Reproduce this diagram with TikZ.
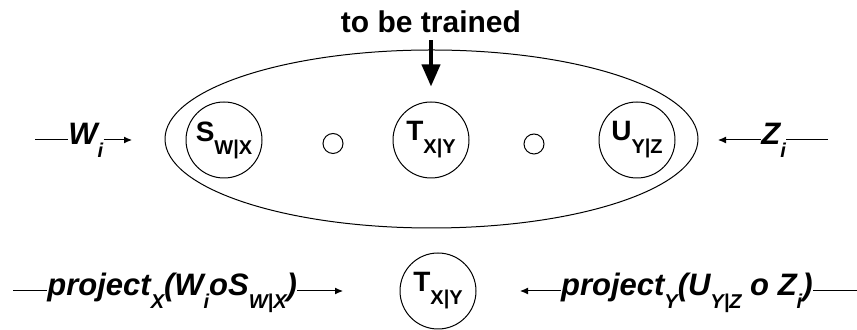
\documentclass[tikz,border=0pt]{standalone}
\usepackage{fontspec}
\setmainfont{Liberation Sans}
\usetikzlibrary{arrows.meta,shapes.geometric}

% lowered index as in the figure
\newcommand{\lowsub}[1]{\raisebox{-6.5pt}{\fontsize{10}{11}\selectfont #1}}

\begin{document}
\begin{tikzpicture}[x=0.5pt, y=-0.5pt,
    model/.style={draw, circle, line width=0.5pt, minimum size=38pt, inner sep=0pt, font=\fontsize{14}{16}\selectfont\bfseries},
    dot/.style={draw, circle, line width=0.5pt, minimum size=10pt, inner sep=0pt},
    group/.style={draw, ellipse, line width=0.5pt, minimum width=266.5pt, minimum height=89pt, inner sep=0pt},
    lbl/.style={inner sep=0pt, font=\fontsize{15.5}{17}\selectfont\bfseries\itshape},
    flow/.style={line width=0.5pt},
    tip/.style={flow, -{Latex[length=4pt, width=3.5pt]}},
    bigarrow/.style={line width=2pt, -{Triangle[length=11pt, width=9pt]}}]
    \useasboundingbox (0,0) rectangle (857,330);

    % models to be chained
    \node[group] (grp) at (431.5,139) {};
    \node[model] (S) at (224,140) {S\lowsub{W|X}};
    \node[model] (T) at (431,140) {T\lowsub{X|Y}};
    \node[model] (U) at (637,140) {U\lowsub{Y|Z}};
    \node[dot] (o1) at (333,143.5) {};
    \node[dot] (o2) at (534,144) {};

    \node[font=\fontsize{15}{17}\selectfont\bfseries] (trained) at (431,22) {to be trained};
    \draw[bigarrow] (trained.south) -- (T.north) [shorten >=7.5pt];

    % inputs
    \node[lbl, anchor=base west] (wi) at (68,145) {W\lowsub{i}};
    \coordinate (win) at (35,140);
    \coordinate (wout) at (132,140);
    \draw[flow] (win) -- (win -| wi.west);
    \draw[tip] (wi.east |- win) -- (wout);

    \node[lbl, anchor=base west] (zi) at (761,145) {Z\lowsub{i}};
    \coordinate (zin) at (828,140);
    \coordinate (zout) at (718,140);
    \draw[flow] (zin) -- (zin -| zi.east);
    \draw[tip] (zi.west |- zin) -- (zout);

    % projected pairs
    \node[model] (Tb) at (438,291) {T\lowsub{X|Y}};

    \node[lbl, anchor=base west] (px) at (47,296) {project\lowsub{X}(W\lowsub{i}oS\lowsub{W|X})};
    \coordinate (pxin) at (13,291);
    \coordinate (pxout) at (343,291);
    \draw[flow] (pxin) -- (pxin -| px.west);
    \draw[tip] (px.east |- pxin) -- (pxout);

    \node[lbl, anchor=base east] (py) at (813,296) {project\lowsub{Y}(U\lowsub{Y|Z} o Z\lowsub{i})};
    \coordinate (pyin) at (857,291);
    \coordinate (pyout) at (520,291);
    \draw[flow] (pyin) -- (pyin -| py.east);
    \draw[tip] (py.west |- pyin) -- (pyout);
\end{tikzpicture}
\end{document}
